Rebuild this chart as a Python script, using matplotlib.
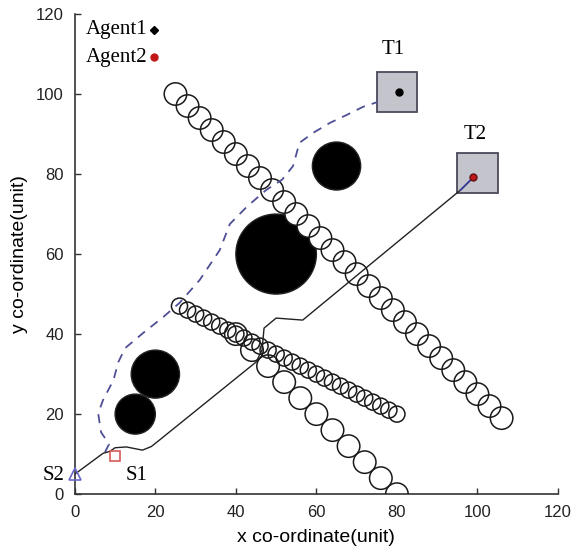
import matplotlib
matplotlib.use("Agg")
import matplotlib.pyplot as plt
from matplotlib.patches import Circle, Rectangle

# obstacle chains (centres) and their radii
chain_long_x = [25, 28, 31, 34, 37, 40, 43, 46, 49, 52, 55, 58, 61, 64,
                67, 70, 73, 76, 79, 82, 85, 88, 91, 94, 97, 100, 103, 106]
chain_long_y = [100, 97, 94, 91, 88, 85, 82, 79, 76, 73, 70, 67, 64, 61,
                58, 55, 52, 49, 46, 43, 40, 37, 34, 31, 28, 25, 22, 19]
chain_small_x = [26, 28, 30, 32, 34, 36, 38, 40, 42, 44, 46, 48, 50, 52,
                 54, 56, 58, 60, 62, 64, 66, 68, 70, 72, 74, 76, 78, 80]
chain_small_y = [47, 46, 45, 44, 43, 42, 41, 40, 39, 38, 37, 36, 35, 34,
                 33, 32, 31, 30, 29, 28, 27, 26, 25, 24, 23, 22, 21, 20]
chain_mid_x = [40, 44, 48, 52, 56, 60, 64, 68, 72, 76, 80]
chain_mid_y = [40, 36, 32, 28, 24, 20, 16, 12, 8, 4, 0]
r_long, r_small, r_mid = 2.8, 2.0, 2.8

# solid obstacles
blob_x = [50, 65, 20, 15]
blob_y = [60, 82, 30, 20]
blob_r = [10, 6, 6, 5]

# agent paths
path1_x = [7.5, 8.5, 6.5, 5.8, 7.0, 9.6, 10.8, 12.5, 17.0, 22.0, 26.0, 31.0,
           36.0, 38.5, 42.7, 47.5, 51.5, 54.2, 55.8, 59.2, 63.4, 67.6, 71.6, 75.2]
path1_y = [10.5, 12.5, 15.5, 20.2, 23.5, 28.5, 33.0, 36.5, 40.3, 44.3, 47.8, 53.5,
           61.0, 67.5, 71.8, 76.0, 78.6, 82.0, 87.8, 90.3, 92.8, 94.8, 96.8, 98.0]
path2_x = [0, 7, 8.7, 10, 12.8, 16.8, 19, 21, 45, 46.5, 47, 50, 56.6, 95.8, 99]
path2_y = [5, 10.2, 10.7, 11.6, 11.8, 11.0, 11.9, 13.5, 33, 36, 41.5, 44, 43.5, 76, 79.2]

# start / target positions
s1 = (10, 9.5)
s2 = (0, 5)
t1 = (80.6, 100.5)
t2 = (99, 79.2)
t1_box = (75, 95.5)
t2_box = (95, 75.3)
box_size = 10

serif = "Liberation Serif"
sans = "Liberation Sans"

fig = plt.figure(figsize=(5.8, 5.59), dpi=100)
ax = fig.add_axes([0.129, 0.116, 0.833, 0.859])
ax.set_xlim(0, 120)
ax.set_ylim(0, 120)

for x, y, r in zip(blob_x, blob_y, blob_r):
    ax.add_patch(Circle((x, y), r, facecolor="black", edgecolor="#222222",
                        lw=1, zorder=1))

chains = [(chain_long_x, chain_long_y, r_long),
          (chain_small_x, chain_small_y, r_small),
          (chain_mid_x, chain_mid_y, r_mid)]
# white fills first, then every outline so overlaps stay visible
for cx, cy, r in chains:
    for x, y in zip(cx, cy):
        ax.add_patch(Circle((x, y), r, facecolor="white", edgecolor="none",
                            zorder=2))
for cx, cy, r in chains:
    for x, y in zip(cx, cy):
        ax.add_patch(Circle((x, y), r, facecolor="none", edgecolor="#1a1a1a",
                            lw=1.1, zorder=3))

for (bx, by) in [t1_box, t2_box]:
    ax.add_patch(Rectangle((bx, by), box_size, box_size, facecolor="#c4c4cc",
                           edgecolor="#4a4a5a", lw=1.3, zorder=3))

ax.plot(path1_x, path1_y, color="#4f4f96", lw=1.3, ls=(0, (5, 4)), zorder=4)
ax.plot(path2_x, path2_y, color="#222222", lw=1.0, zorder=4)
ax.plot(path2_x[-2:], path2_y[-2:], color="#3a3aa0", lw=1.2, zorder=4)

ax.plot(*t1, "o", color="black", ms=5, zorder=5)
ax.plot(*t2, "o", color="#c01818", mec="#601010", ms=5, zorder=5)
ax.plot(*s1, "s", mfc="none", mec="#d85a5a", ms=7, mew=1.2, zorder=5)
ax.plot(*s2, "^", mfc="none", mec="#6a6ac8", ms=8, mew=1.2, zorder=5,
        clip_on=False)

# legend entries
ax.text(18, 116, "Agent1", family=serif, fontsize=15, ha="right", va="center")
ax.plot(19.6, 116, "D", color="black", ms=4, zorder=5)
ax.text(18, 109.2, "Agent2", family=serif, fontsize=15, ha="right", va="center")
ax.plot(19.6, 109.2, "o", color="#c01818", ms=5, zorder=5)

ax.text(79, 111, "T1", family=serif, fontsize=15, ha="center", va="center")
ax.text(99.5, 90, "T2", family=serif, fontsize=15, ha="center", va="center")
ax.text(15.3, 4.7, "S1", family=serif, fontsize=15, ha="center", va="center")
ax.text(-5.2, 4.7, "S2", family=serif, fontsize=15, ha="center", va="center",
        clip_on=False)

for side in ["top", "right"]:
    ax.spines[side].set_visible(False)
for side in ["left", "bottom"]:
    ax.spines[side].set_color("#333333")
    ax.spines[side].set_linewidth(1.2)

ax.set_xticks(range(0, 121, 20))
ax.set_yticks(range(0, 121, 20))
ax.tick_params(direction="in", length=4, width=1, colors="#333333",
               labelsize=12, pad=8)
for lab in ax.get_xticklabels() + ax.get_yticklabels():
    lab.set_family(sans)
    lab.set_color("#222222")

ax.set_xlabel("x co-ordinate(unit)", family=sans, fontsize=14, labelpad=6)
ax.set_ylabel("y co-ordinate(unit)", family=sans, fontsize=14, labelpad=6)

fig.savefig("out.png", dpi=100)
